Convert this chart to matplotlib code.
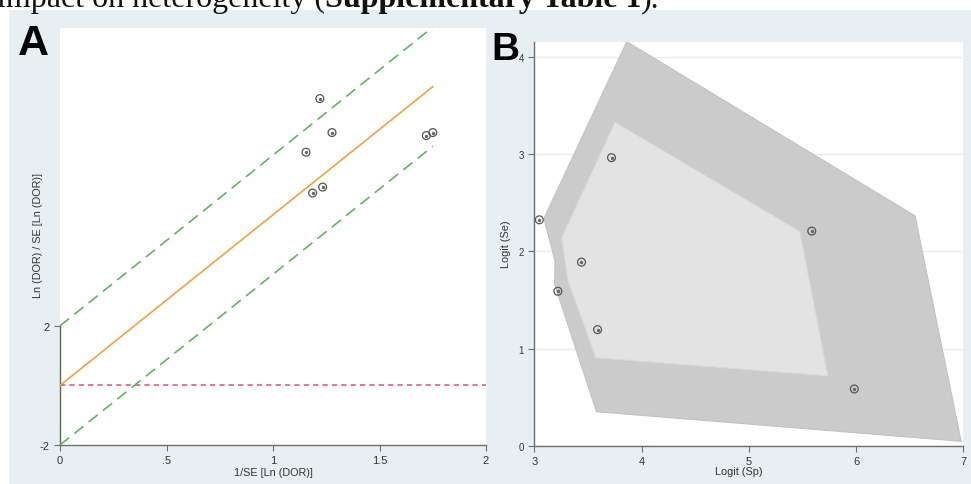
import matplotlib
matplotlib.use("Agg")
import matplotlib.pyplot as plt
from matplotlib.patches import Rectangle, Polygon
import numpy as np

plt.rcParams["axes.unicode_minus"] = False

# Panel A: Galbraith plot (precision vs standardised ln DOR)
precision = [1.220, 1.277, 1.155, 1.720, 1.750, 1.186, 1.233]
z_dor = [9.63, 8.49, 7.83, 8.39, 8.49, 6.46, 6.66]
a_xticks = [0, 0.5, 1, 1.5, 2]
a_xticklabels = ["0", ".5", "1", "1.5", "2"]
a_yticks = [-2, 2]

# Panel B: bivariate boxplot
logit_sp = [3.72, 3.047, 3.44, 3.22, 3.59, 5.587, 5.984]
logit_se = [2.966, 2.326, 1.89, 1.59, 1.195, 2.21, 0.584]
outer_x = [3.862, 6.55, 6.98, 3.58, 3.19, 3.193, 3.09]
outer_y = [4.16, 2.367, 0.045, 0.35, 1.66, 1.90, 2.34]
inner_x = [3.752, 5.475, 5.736, 3.575, 3.317, 3.255]
inner_y = [3.33, 2.206, 0.72, 0.906, 1.69, 2.137]
b_xticks = [3, 4, 5, 6, 7]
b_yticks = [0, 1, 2, 3, 4]

BG = "#e8eff2"
AXC = "#6e6e6e"
FONT = "Liberation Sans"

fig = plt.figure(figsize=(9.71, 4.85), dpi=100)
fig.patches.append(Rectangle((9 / 971, 0), 962 / 971, 474 / 485, transform=fig.transFigure,
                             facecolor=BG, edgecolor="none", zorder=-5))


def style_axis(ax):
    for s in ["top", "right"]:
        ax.spines[s].set_visible(False)
    for s in ["left", "bottom"]:
        ax.spines[s].set_color(AXC)
        ax.spines[s].set_linewidth(1.0)
    ax.tick_params(colors=AXC, labelcolor="#333333", length=4, width=0.8, labelsize=8)
    for lab in ax.get_xticklabels() + ax.get_yticklabels():
        lab.set_family(FONT)


def draw_markers(ax, x, y):
    ax.scatter(x, y, s=32, facecolors="none", edgecolors="#555555", linewidths=0.9, zorder=4)
    ax.scatter(x, y, s=2, color="#666666", zorder=5)


# ---- Panel A ----
axA = fig.add_axes([60 / 971, 39 / 485, 426 / 971, 417 / 485], zorder=2)
axA.set_xlim(0, 2)
axA.set_ylim(-2, 12)
px = np.array(precision)
pz = np.array(z_dor)
slope = np.sum(px * pz) / np.sum(px * px)   # regression through origin
xl = np.array([0, px.max()])
axA.plot(xl, slope * xl, color="#f5a043", lw=1.2, zorder=3)
axA.plot(xl, slope * xl + 2, color="#5cb85c", lw=1.2, dashes=(7, 4), zorder=3)
axA.plot(xl, slope * xl - 2, color="#5cb85c", lw=1.2, dashes=(7, 4), zorder=3)
axA.axhline(0, color="#e8788a", lw=1.5, dashes=(2.5, 2), zorder=2)
draw_markers(axA, precision, z_dor)
axA.set_xticks(a_xticks)
axA.set_xticklabels(a_xticklabels)
axA.set_yticks(a_yticks)
style_axis(axA)
axA.spines["left"].set_bounds(-2, 2)
axA.spines["left"].set_color("#5a6b4a")
axA.set_xlabel("1/SE [Ln (DOR)]", fontsize=7.8, family=FONT, color="#333333")
axA.set_ylabel("Ln (DOR) / SE [Ln (DOR)]", fontsize=7.8, family=FONT, color="#333333", va="center")
axA.xaxis.set_label_coords(0.5, -0.053)
axA.yaxis.set_label_coords(-0.052, 0.505)

# ---- Panel B ----
axB = fig.add_axes([534.3 / 971, 38.3 / 485, 429 / 971, 404 / 485], zorder=2)
axB.set_xlim(3, 7)
axB.set_ylim(0, 4.16)
axB.add_patch(Polygon(np.column_stack([outer_x, outer_y]), closed=True,
                      facecolor="#cbcbcb", edgecolor="#c2c2c2", lw=0.8, zorder=1))
axB.add_patch(Polygon(np.column_stack([inner_x, inner_y]), closed=True,
                      facecolor="#e3e3e3", edgecolor="#dadada", lw=0.8, zorder=2))
draw_markers(axB, logit_sp, logit_se)
axB.set_xticks(b_xticks)
axB.set_yticks(b_yticks)
axB.grid(axis="y", color="#e4eff1", lw=1.0, zorder=0)
axB.set_axisbelow(True)
style_axis(axB)
axB.tick_params(axis="y", labelsize=7)
axB.set_xlabel("Logit (Sp)", fontsize=7.8, family=FONT, color="#333333")
axB.set_ylabel("Logit (Se)", fontsize=7.8, family=FONT, color="#333333", va="center")
axB.xaxis.set_label_coords(0.477, -0.05)
axB.yaxis.set_label_coords(-0.0667, 0.5)

# panel letters
fig.text(18 / 971, 1 - 55 / 485, "A", fontsize=31, fontweight="bold", family=FONT, va="baseline")
fig.text(491 / 971, 1 - 60 / 485, "B", fontsize=28, fontweight="bold", family=FONT, va="baseline")

# cropped caption line from the page above the figure
renderer = fig.canvas.get_renderer()
x0 = -3 / 971
ybase = 1 - 7 / 485
parts = [("impact on heterogeneity (", "normal"), ("Supplementary Table 1", "bold"), (").", "normal")]
for txt, wt in parts:
    t = fig.text(x0, ybase, txt, fontsize=23, fontweight=wt, family="Liberation Serif",
                 va="baseline", color="#111111")
    bb = t.get_window_extent(renderer=renderer)
    x0 += bb.width / fig.bbox.width

fig.savefig("out.png", dpi=100)
